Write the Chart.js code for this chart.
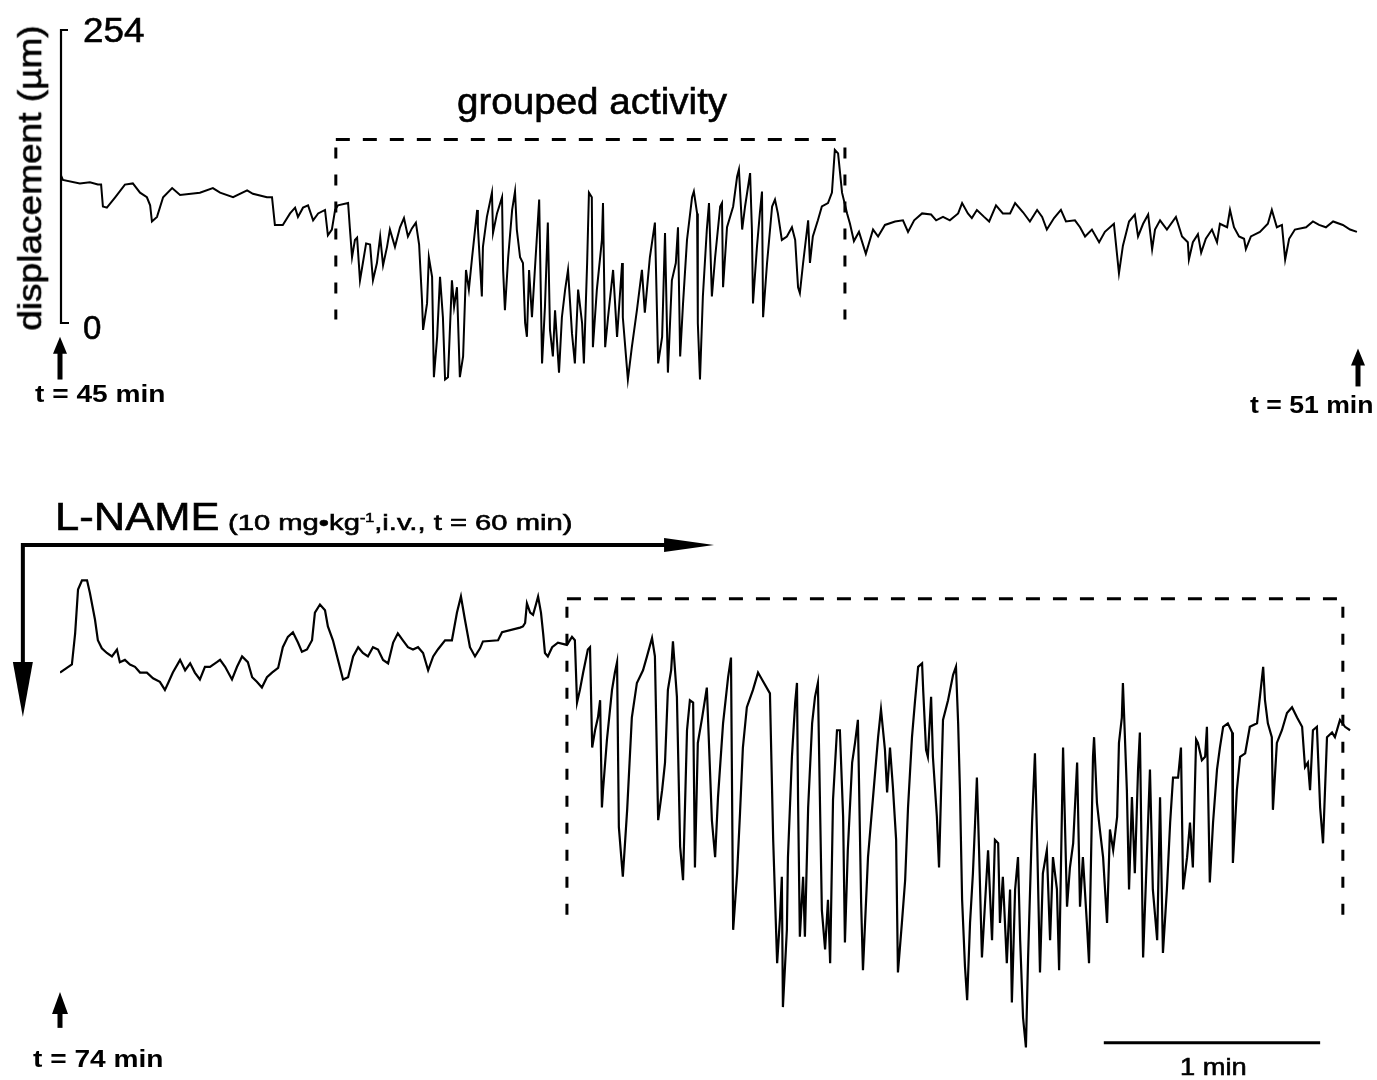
<!DOCTYPE html>
<html>
<head>
<meta charset="utf-8">
<title>Grouped activity before and after L-NAME</title>
<script src="https://cdn.jsdelivr.net/npm/chart.js@4.4.1/dist/chart.umd.min.js"></script>
<style>
  html, body { margin: 0; padding: 0; background: #fff; }
  #wrap { position: relative; width: 1377px; height: 1080px; overflow: hidden; background: #fff; }
  #wrap canvas { position: absolute; left: 0; top: 0; }
  .lbl { position: absolute; white-space: nowrap; color: #000; line-height: 1;
         font-family: "Liberation Sans", Arial, Helvetica, sans-serif; transform-origin: 0 0; }
  .lbl.heavy { -webkit-text-stroke: 0.6px #000; }
  .lbl sup { font-size: 55%; line-height: 0; vertical-align: 0.7em; }
</style>
</head>
<body>
<div id="wrap"><canvas id="trace" width="1377" height="1080"></canvas></div>
<script>
// ---- recording 1: t = 45 .. 51 min (time in s from the start of the sweep, displacement in µm)
const topTime = [
  0, 0.8, 5.5, 8.3, 10.5, 11.4, 11.9, 13.0, 15.3, 18.0,
  20.2, 22.2, 24.1, 25.0, 25.5, 26.9, 28.6, 31.1, 33.3, 38.8,
  42.4, 44.4, 48.0, 51.9, 53.5, 57.4, 58.8, 59.6, 61.8, 63.8,
  65.2, 66.0, 67.4, 68.8, 70.2, 71.6, 73.5, 74.3, 75.4, 76.3,
  77.1, 79.9, 80.4, 81.0, 81.8, 82.4, 83.2, 84.0, 84.9, 86.0,
  86.8, 87.9, 88.8, 89.6, 90.7, 91.5, 92.9, 94.3, 95.4, 96.5,
  97.6, 98.7, 99.6, 100.4, 100.7, 101.8, 102.3, 103.2, 103.7, 104.6,
  105.4, 106.2, 106.8, 107.6, 108.7, 109.3, 110.1, 110.9, 111.8, 112.6,
  113.4, 114.3, 115.7, 115.9, 117.0, 117.3, 118.4, 119.8, 120.1, 121.2,
  122.6, 122.9, 123.4, 124.3, 125.4, 126.2, 126.7, 127.6, 128.4, 129.0,
  129.5, 130.1, 130.9, 131.7, 132.9, 133.7, 134.5, 135.3, 135.9, 136.7,
  137.3, 138.4, 139.2, 140.1, 140.9, 142.0, 142.8, 143.7, 144.8, 145.3,
  146.2, 146.7, 147.5, 147.8, 148.9, 150.3, 150.6, 151.2, 152.0, 153.4,
  154.5, 155.9, 156.1, 157.5, 158.6, 160.0, 161.4, 162.2, 163.6, 165.0,
  165.9, 167.0, 167.8, 168.6, 169.7, 170.8, 171.4, 172.0, 172.8, 173.9,
  175.3, 175.8, 176.7, 176.9, 177.5, 178.3, 179.4, 180.0, 180.8, 181.7,
  183.1, 183.6, 183.9, 185.0, 186.7, 187.8, 188.3, 189.2, 190.0, 191.4,
  191.9, 192.2, 193.3, 194.1, 194.7, 195.0, 196.1, 197.5, 198.3, 199.1,
  200.2, 201.6, 203.0, 203.9, 204.7, 205.2, 206.1, 207.5, 208.0, 208.8,
  210.2, 211.3, 213.0, 214.1, 214.9, 215.8, 216.9, 218.3, 219.1, 220.2,
  221.6, 223.5, 225.5, 226.9, 228.8, 231.6, 233.8, 235.2, 236.9, 239.1,
  241.6, 243.0, 244.9, 246.8, 249.1, 250.2, 251.8, 252.9, 254.3, 256.3,
  257.7, 259.6, 261.5, 263.5, 264.9, 267.1, 269.0, 271.0, 272.4, 273.7,
  275.7, 277.6, 279.0, 281.5, 282.9, 284.3, 286.2, 288.2, 289.8, 292.3,
  293.7, 294.8, 296.5, 298.1, 299.0, 300.4, 301.8, 302.9, 303.7, 305.1,
  307.0, 309.5, 311.2, 312.8, 313.1, 314.2, 315.6, 316.5, 317.8, 319.5,
  320.9, 321.7, 323.7, 324.5, 325.6, 327.0, 328.4, 328.9, 330.3, 332.8,
  335.0, 336.1, 337.5, 338.9, 339.8, 340.9, 342.5, 345.6, 347.5, 349.2,
  351.1, 353.1, 355.8, 357.8, 359.7
];
const topDisp = [
  130, 124, 121, 122, 120, 120, 101, 100, 109, 120,
  121, 113, 109, 102, 88, 92, 109, 117, 111, 113,
  117, 113, 109, 115, 112, 109, 109, 85, 85, 95,
  100, 92, 100, 102, 89, 95, 98, 76, 81, 98,
  102, 104, 82, 57, 72, 74, 37, 52, 69, 68,
  37, 52, 75, 50, 66, 81, 66, 83, 91, 75,
  82, 87, 68, 20, -6, 17, 57, 40, -47, -12,
  40, 5, -49, -47, 37, 14, 31, -47, -29, 46,
  29, 57, 98, 83, 23, 66, 92, 113, 78, 95,
  109, 46, 11, 57, 98, 114, 81, 57, 52, 0,
  -12, 46, 5, 46, 107, -35, 14, 87, -6, -29,
  11, -43, 5, 29, 46, -9, -35, 29, 0, -35,
  52, 113, 109, -21, 29, 72, 104, -21, 5, 46,
  -12, 52, 5, -49, -21, 11, 46, 9, 57, 87,
  -35, -12, 78, -43, 37, 52, 83, -29, 17, 72,
  109, 114, 95, 0, -49, 23, 81, 104, 23, 57,
  101, 104, 31, 83, 101, 127, 133, 81, 101, 130,
  81, 17, 66, 95, 114, 5, 52, 101, 107, 95,
  72, 75, 83, 72, 31, 26, 52, 89, 52, 75,
  89, 101, 104, 113, 150, 147, 113, 95, 86, 71,
  79, 60, 81, 75, 85, 88, 89, 79, 89, 95,
  94, 89, 92, 89, 95, 104, 95, 91, 98, 92,
  88, 102, 95, 95, 104, 96, 88, 98, 92, 81,
  91, 98, 88, 89, 83, 75, 81, 70, 79, 86,
  43, 67, 88, 94, 75, 86, 94, 64, 81, 89,
  81, 92, 75, 70, 55, 70, 77, 61, 73, 81,
  70, 86, 83, 98, 83, 75, 73, 64, 75, 79,
  86, 98, 83, 85, 55, 73, 81, 83, 88, 85,
  83, 88, 85, 81, 79
];

// ---- recording 2: from t = 74 min, after L-NAME
const botTime = [
  0, 1.9, 3.3, 4.2, 5.0, 6.1, 7.5, 8.3, 9.7, 10.5,
  11.6, 13.0, 14.4, 15.8, 16.6, 18.0, 19.4, 20.8, 22.2, 24.1,
  25.8, 27.7, 29.1, 30.0, 31.3, 33.3, 34.7, 36.1, 37.4, 38.8,
  40.2, 41.6, 43.5, 44.4, 45.8, 47.7, 49.1, 50.5, 52.1, 53.3,
  54.6, 56.0, 57.4, 58.8, 60.5, 61.8, 63.2, 64.6, 66.0, 67.1,
  68.5, 69.9, 70.7, 72.1, 73.5, 74.3, 75.7, 77.1, 78.5, 79.9,
  81.3, 82.7, 84.0, 85.4, 86.8, 88.2, 89.6, 91.0, 92.4, 93.7,
  95.1, 96.5, 97.9, 99.3, 100.7, 102.1, 103.5, 104.8, 106.8, 108.7,
  110.1, 111.2, 112.3, 113.7, 115.1, 116.5, 117.3, 121.5, 122.6, 127.6,
  128.4, 129.0, 129.5, 130.4, 131.2, 132.0, 132.6, 133.4, 134.0, 134.5,
  135.3, 136.5, 138.1, 140.6, 142.0, 142.8, 143.4, 144.2, 145.1, 146.4,
  147.0, 147.6, 148.4, 149.2, 149.8, 150.3, 150.6, 151.7, 153.1, 153.9,
  154.5, 155.0, 156.1, 157.3, 158.6, 160.0, 161.7, 162.8, 164.2, 165.0,
  165.9, 167.0, 167.8, 168.6, 169.5, 170.0, 171.1, 172.0, 172.8, 173.9,
  174.7, 175.6, 176.1, 176.9, 178.1, 179.4, 180.8, 181.7, 182.5, 183.9,
  185.3, 186.1, 186.7, 187.8, 188.6, 189.4, 190.5, 192.2, 193.6, 194.7,
  196.9, 197.8, 198.9, 199.7, 200.2, 200.5, 201.6, 201.9, 203.0, 203.9,
  204.4, 204.7, 205.2, 206.1, 206.6, 207.5, 208.6, 209.4, 210.2, 211.3,
  212.2, 213.0, 213.6, 214.4, 215.5, 216.3, 217.2, 217.7, 218.5, 219.7,
  220.5, 221.3, 222.2, 222.7, 224.1, 225.5, 226.9, 227.7, 228.8, 229.4,
  230.2, 231.0, 231.9, 232.4, 233.5, 234.4, 235.2, 236.3, 237.1, 238.0,
  239.1, 239.4, 240.2, 240.7, 241.6, 242.1, 243.2, 243.8, 244.9, 246.3,
  247.7, 248.5, 249.1, 249.6, 250.2, 251.0, 251.6, 252.4, 253.2, 253.8,
  254.3, 254.9, 255.7, 256.5, 257.4, 258.5, 259.3, 260.2, 260.7, 261.5,
  262.6, 263.5, 264.0, 264.9, 265.7, 266.3, 267.1, 267.9, 268.5, 269.6,
  270.4, 271.0, 271.8, 272.6, 273.7, 274.6, 275.4, 276.5, 277.1, 278.2,
  279.3, 280.1, 281.0, 282.1, 282.9, 283.7, 284.8, 285.4, 286.5, 286.8,
  287.6, 288.4, 289.3, 290.4, 291.2, 292.1, 293.2, 293.7, 294.5, 294.8,
  295.9, 296.5, 297.3, 298.1, 299.0, 299.5, 300.4, 301.5, 302.3, 303.1,
  304.3, 305.1, 305.9, 307.0, 307.9, 308.7, 310.1, 310.9, 311.5, 312.6,
  313.4, 314.2, 315.1, 315.6, 316.7, 317.6, 318.1, 318.9, 319.8, 320.9,
  321.7, 322.6, 323.9, 325.1, 325.3, 326.4, 327.3, 328.7, 330.0, 332.0,
  332.8, 333.7, 334.2, 335.0, 336.1, 336.4, 337.5, 338.9, 340.3, 341.7,
  343.1, 344.5, 345.3, 346.1, 346.7, 347.5, 348.6, 349.5, 350.3, 351.4,
  352.8, 353.6, 355.0, 356.4, 357.8
];
const botDisp = [
  120, 124, 127, 154, 192, 200, 200, 189, 166, 148,
  141, 137, 134, 140, 129, 131, 127, 125, 120, 120,
  115, 112, 105, 111, 120, 131, 122, 128, 120, 114,
  125, 125, 129, 131, 125, 114, 125, 134, 129, 116,
  112, 107, 116, 120, 124, 142, 151, 155, 146, 138,
  140, 148, 172, 179, 174, 160, 148, 131, 114, 116,
  134, 142, 137, 134, 142, 140, 131, 128, 146, 154,
  148, 142, 140, 142, 137, 122, 134, 140, 148, 148,
  172, 186, 166, 142, 134, 141, 147, 148, 155, 159,
  160, 163, 180, 172, 170, 179, 186, 172, 154, 137,
  134, 142, 146, 144, 151, 148, 94, 105, 120, 140,
  142, 55, 70, 81, 96, 3, 18, 62, 105, 120,
  129, -14, -57, 1, 81, 111, 122, 134, 150, 134,
  -8, 18, 42, 105, 122, 147, 99, -31, -60, 70,
  96, 94, -49, 59, 81, 107, -8, -40, 12, 76,
  116, 133, -103, -54, -2, 55, 90, 105, 120, 114,
  102, -25, -132, -92, -57, -170, -103, -40, 47, 94,
  111, 10, -109, -57, -109, 3, 76, 99, 111, -86,
  -120, -77, -132, 10, 70, 70, -5, -114, -34, 42,
  59, 79, -80, -138, -40, 12, 64, 88, 53, 16,
  55, 21, -25, -140, -97, -60, 3, 64, 94, 125,
  128, 105, 53, 47, 99, 47, -5, -49, 79, 96,
  118, 125, 76, 18, -77, -135, -164, -97, -54, -10,
  29, -34, -127, -83, -34, -112, -25, -28, -97, -57,
  -132, -68, -166, -68, -40, -112, -179, -205, -127, -10,
  50, -25, -140, -54, -34, -112, -40, -68, -138, 55,
  -83, -49, -28, 42, -83, -40, -97, -132, 47, 64,
  7, -16, -40, -97, -16, -34, -5, 59, 81, 111,
  18, -68, 12, -54, 36, 68, -127, -34, 36, -68,
  -112, 12, -123, -68, -10, 29, 29, 55, -68, -40,
  -10, -49, 62, 59, 44, 47, 73, -62, -10, 36,
  55, 73, 76, 68, -45, 18, 47, 50, 73, 76,
  99, 125, 96, 76, 64, 1, 59, 70, 85, 90,
  81, 73, 38, 42, 18, 70, 73, 3, -28, 64,
  68, 64, 79, 73, 70
];

// labelled ends of the displacement scale (µm) and the sweep length (s)
const dispTicks = [0, 254];
const sweepSeconds = 360;
const scaleBarSeconds = 60;

// ---- layout of the figure
const W = 1377, H = 1080;
const GAIN = 293 / 254;           // px per µm
const TOP_ZERO_PX = 323;          // pixel row of 0 µm in the first sweep
const BOT_ZERO_PX = 811;          // pixel row of 0 µm in the second sweep

const toXY = (t, d) => t.map((v, i) => ({ x: v, y: d[i] }));

// boxes marking grouped activity (time in s, displacement in µm)
const groupBoxTop = { from: 76.5, to: 217.7, top: 159, bottom: 3 };
const groupBoxBot = { from: 140.6, to: 355.8, top: 184, bottom: -93 };

function dashLine(ctx, x1, y1, x2, y2, dash) {
  ctx.save();
  ctx.setLineDash(dash);
  ctx.beginPath();
  ctx.moveTo(x1, y1);
  ctx.lineTo(x2, y2);
  ctx.stroke();
  ctx.restore();
}

function upArrow(ctx, x, tip, headLen, halfW, end, shaftW) {
  ctx.beginPath();
  ctx.moveTo(x, tip);
  ctx.lineTo(x + halfW, tip + headLen);
  ctx.lineTo(x - halfW, tip + headLen);
  ctx.closePath();
  ctx.fill();
  ctx.fillRect(x - shaftW / 2, tip + headLen - 1, shaftW, end - tip - headLen + 1);
}

const decorations = {
  id: 'decorations',
  afterDraw(chart) {
    const ctx = chart.ctx;
    const xs = chart.scales.x, yt = chart.scales.yTop, yb = chart.scales.yBot;
    ctx.save();
    ctx.strokeStyle = '#000';
    ctx.fillStyle = '#000';
    ctx.lineCap = 'butt';

    // displacement scale bracket of the first sweep
    const ax = xs.getPixelForValue(0) + 1;
    const yHi = yt.getPixelForValue(dispTicks[1]);
    const yLo = yt.getPixelForValue(dispTicks[0]);
    ctx.lineWidth = 2.2;
    ctx.beginPath();
    ctx.moveTo(ax + 7, yHi);
    ctx.lineTo(ax, yHi);
    ctx.lineTo(ax, yLo);
    ctx.lineTo(ax + 8, yLo);
    ctx.stroke();

    // dashed boxes around the grouped activity
    ctx.lineWidth = 3;
    [[groupBoxTop, yt], [groupBoxBot, yb]].forEach(([b, ys]) => {
      const l = xs.getPixelForValue(b.from), r = xs.getPixelForValue(b.to);
      const t = ys.getPixelForValue(b.top), btm = ys.getPixelForValue(b.bottom);
      dashLine(ctx, l, t, r, t, [14, 13]);
      dashLine(ctx, l, t + 8, l, btm, [11, 16]);
      dashLine(ctx, r, t + 8, r, btm, [11, 16]);
    });

    // sweep start / end markers
    upArrow(ctx, xs.getPixelForValue(0), yt.getPixelForValue(-12), 17, 7, yt.getPixelForValue(-49), 5);
    upArrow(ctx, xs.getPixelForValue(sweepSeconds), yt.getPixelForValue(-22), 17, 7, yt.getPixelForValue(-55), 5);
    upArrow(ctx, xs.getPixelForValue(0), yb.getPixelForValue(-157), 22, 8, yb.getPixelForValue(-188), 5);

    // L-NAME administration arrow
    const cx = xs.getPixelForValue(-10.3), cy = yb.getPixelForValue(230.6);
    const hx = xs.getPixelForValue(181.4), vy = yb.getPixelForValue(81.5);
    ctx.lineWidth = 4;
    ctx.beginPath();
    ctx.moveTo(hx - 46, cy);
    ctx.lineTo(cx, cy);
    ctx.lineTo(cx, vy - 52);
    ctx.stroke();
    ctx.beginPath();
    ctx.moveTo(hx, cy);
    ctx.lineTo(hx - 50, cy - 7);
    ctx.lineTo(hx - 50, cy + 7);
    ctx.closePath();
    ctx.fill();
    ctx.beginPath();
    ctx.moveTo(cx, vy);
    ctx.lineTo(cx - 10, vy - 55);
    ctx.lineTo(cx + 10, vy - 55);
    ctx.closePath();
    ctx.fill();

    // 1 min time scale bar
    const sbMid = 319.5;
    const sbY = yb.getPixelForValue(-201);
    ctx.lineWidth = 3;
    ctx.beginPath();
    ctx.moveTo(xs.getPixelForValue(sbMid - scaleBarSeconds / 2), sbY);
    ctx.lineTo(xs.getPixelForValue(sbMid + scaleBarSeconds / 2), sbY);
    ctx.stroke();
    ctx.restore();
  }
};

new Chart(document.getElementById('trace'), {
  type: 'line',
  data: {
    datasets: [
      { label: 't = 45–51 min', data: toXY(topTime, topDisp), yAxisID: 'yTop',
        borderColor: '#000', borderWidth: 2, pointRadius: 0, tension: 0, fill: false },
      { label: 'after L-NAME', data: toXY(botTime, botDisp), yAxisID: 'yBot',
        borderColor: '#000', borderWidth: 2.2, pointRadius: 0, tension: 0, fill: false }
    ]
  },
  options: {
    responsive: false,
    devicePixelRatio: 1,
    animation: false,
    events: [],
    layout: { padding: { left: 60, right: 19, top: 0, bottom: 0 } },
    plugins: { legend: { display: false }, tooltip: { enabled: false } },
    scales: {
      x: { type: 'linear', min: 0, max: sweepSeconds, display: false },
      yTop: { type: 'linear', min: -(H - TOP_ZERO_PX) / GAIN, max: TOP_ZERO_PX / GAIN, display: false },
      yBot: { type: 'linear', min: -(H - BOT_ZERO_PX) / GAIN, max: BOT_ZERO_PX / GAIN, display: false }
    }
  },
  plugins: [decorations]
});

// ---- text labels
const wrap = document.getElementById('wrap');
function addLabel(o) {
  const el = document.createElement('div');
  el.className = 'lbl' + (o.heavy ? ' heavy' : '');
  el.innerHTML = o.html;
  el.style.fontSize = o.size + 'px';
  el.style.fontWeight = o.weight || 'normal';
  wrap.appendChild(el);
  const w = el.offsetWidth, h = el.offsetHeight;
  const k = o.width ? o.width / w : 1;
  if (o.rotate) {
    el.style.left = (o.cx - w / 2) + 'px';
    el.style.top = (o.cy - h / 2) + 'px';
    el.style.transformOrigin = '50% 50%';
    el.style.transform = 'rotate(-90deg) scaleX(' + k + ')';
  } else {
    el.style.left = o.left + 'px';
    el.style.top = o.top + 'px';
    el.style.transform = 'scaleX(' + k + ')';
  }
}
[
  { html: String(dispTicks[1]), left: 83, top: 12, size: 35, width: 61, heavy: true },
  { html: String(dispTicks[0]), left: 83, top: 311, size: 33, heavy: true },
  { html: 'displacement (µm)', rotate: true, cx: 29, cy: 178, size: 34, width: 305, heavy: true },
  { html: 'grouped activity', left: 457, top: 83, size: 37, width: 270, heavy: true },
  { html: 't = 45 min', left: 35, top: 382, size: 24, weight: 'bold', width: 130 },
  { html: 't = 51 min', left: 1250, top: 393, size: 24, weight: 'bold', width: 123 },
  { html: 'L-NAME', left: 55, top: 498, size: 38, width: 165, heavy: true },
  { html: '(10 mg•kg<sup>-1</sup>,i.v., t = 60 min)', left: 228, top: 512, size: 22, width: 345, heavy: true },
  { html: 't = 74 min', left: 33, top: 1047, size: 24, weight: 'bold', width: 130 },
  { html: '1 min', left: 1180, top: 1055, size: 24, width: 67, heavy: true }
].forEach(addLabel);
</script>
</body>
</html>
